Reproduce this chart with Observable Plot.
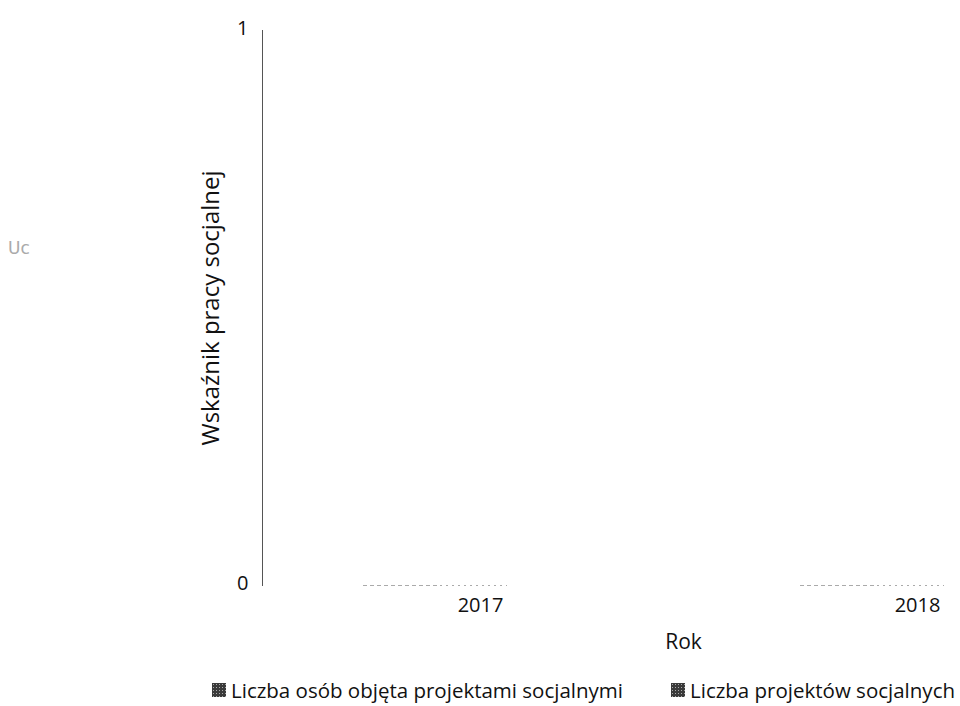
<!DOCTYPE html>
<html>
<head>
<meta charset="utf-8">
<script src="https://cdn.jsdelivr.net/npm/d3@7"></script>
<script src="https://cdn.jsdelivr.net/npm/@observablehq/plot@0.6"></script>
<style>
  html, body { margin: 0; padding: 0; background: #fff; }
  body { width: 960px; height: 706px; position: relative; overflow: hidden; font-family: "Open Sans", sans-serif; }
  #stray { position: absolute; left: 8px; top: 238px; font-size: 17px; color: #aaa; font-family: "DejaVu Sans", sans-serif; }
  #legend { position: absolute; top: 676px; left: 0; width: 960px; height: 28px; font-size: 20.5px; line-height: 28px; color: #111; }
  .item { position: absolute; top: 0; display: flex; align-items: center; gap: 5px; white-space: nowrap; }
  .sw { width: 14px; height: 14px; background: #3a3a3a;
        background-image: radial-gradient(#aaa 0.6px, transparent 0.9px); background-size: 3px 3px; }
</style>
</head>
<body>
<div id="chart"></div>
<div id="stray">Uc</div>
<div id="legend"></div>
<script>
const years = ["2017", "2018"];
const seriesNames = ["Liczba osób objęta projektami socjalnymi", "Liczba projektów socjalnych"];
const osobValues = [0, 0];
const projektyValues = [0, 0];
const yTicks = [0, 1];

const dataOsob = years.map((y, i) => ({year: y, series: seriesNames[0], value: osobValues[i]}));
const dataProj = years.map((y, i) => ({year: y, series: seriesNames[1], value: projektyValues[i]}));

const plot = Plot.plot({
  width: 960,
  height: 665,
  marginLeft: 262,
  marginRight: 0,
  marginTop: 30,
  marginBottom: 80,
  style: {fontFamily: "Open Sans, sans-serif", fontSize: "20px", color: "#111", background: "#fff", overflow: "hidden"},
  x: {type: "band", domain: years, paddingInner: 0.9, paddingOuter: 0.2486, align: 0.903},
  y: {domain: [0, 1]},
  marks: [
    Plot.frame({anchor: "left", stroke: "#555", strokeWidth: 1}),
    Plot.axisY({ticks: yTicks, tickFormat: d3.format("d"), tickSize: 0, tickPadding: 14, fontSize: 20, dy: -2, label: null}),
    Plot.axisX({tickSize: 0, tickPadding: 12, fontSize: 20, label: null}),
    Plot.text(["Wskaźnik pracy socjalnej"], {frameAnchor: "left", textAnchor: "middle", rotate: -90, dx: -51, fontSize: 24, fill: "#111"}),
    Plot.text(["Rok"], {frameAnchor: "bottom", dx: 72, dy: 63, fontSize: 21, fill: "#111"}),
    Plot.tickY(dataOsob, {x: "year", y: "value", stroke: "#aaa", strokeDasharray: "4,3", insetLeft: -95, insetRight: 62}),
    Plot.tickY(dataProj, {x: "year", y: "value", stroke: "#aaa", strokeDasharray: "2,4", insetLeft: -18, insetRight: -5})
  ]
});
document.getElementById("chart").appendChild(plot);

const legend = document.getElementById("legend");
const lefts = [212, 671];
seriesNames.forEach((name, i) => {
  const item = document.createElement("div");
  item.className = "item";
  item.style.left = lefts[i] + "px";
  const sw = document.createElement("span");
  sw.className = "sw";
  const t = document.createElement("span");
  t.textContent = name;
  item.appendChild(sw);
  item.appendChild(t);
  legend.appendChild(item);
});
</script>
</body>
</html>
